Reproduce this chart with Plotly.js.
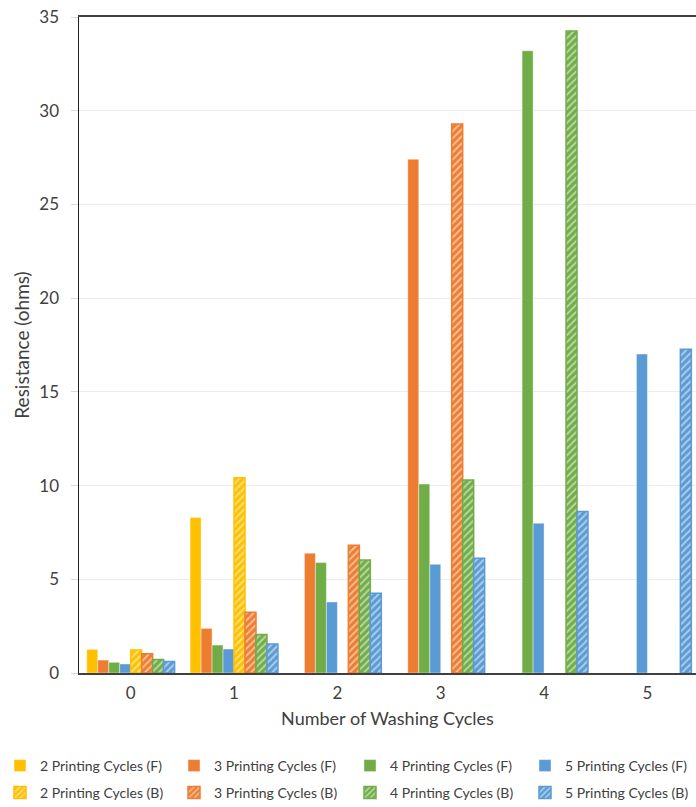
<!DOCTYPE html>
<html>
<head>
<meta charset="utf-8">
<script src="https://cdn.plot.ly/plotly-3.0.1.min.js"></script>
<style>html,body{margin:0;padding:0;background:#fff;}#chart{width:696px;height:807px;}</style>
</head>
<body>
<div id="chart"></div>
<script>
const washingCycles = ['0', '1', '2', '3', '4', '5'];

const p2F = [1.26, 8.29, null, null, null, null];
const p3F = [0.69, 2.38, 6.39, 27.41, null, null];
const p4F = [0.57, 1.49, 5.89, 10.08, 33.2, null];
const p5F = [0.48, 1.28, 3.79, 5.80, 7.99, 17.02];
const p2B = [1.23, 10.42, null, null, null, null];
const p3B = [1.03, 3.24, 6.81, 29.29, null, null];
const p4B = [0.72, 2.06, 6.03, 10.30, 34.25, null];
const p5B = [0.62, 1.55, 4.25, 6.12, 8.61, 17.27];

const seriesNames = [
  '2 Printing Cycles (F)', '3 Printing Cycles (F)', '4 Printing Cycles (F)', '5 Printing Cycles (F)',
  '2 Printing Cycles (B)', '3 Printing Cycles (B)', '4 Printing Cycles (B)', '5 Printing Cycles (B)'
];
const seriesValues = [p2F, p3F, p4F, p5F, p2B, p3B, p4B, p5B];
const colors = ['#FFC000', '#ED7D31', '#70AD47', '#5B9BD5'];

const FONT = 'Lato, "Open Sans", sans-serif';
const TEXT = '#404040';

const legendIds = ['legend', 'legend2', 'legend3', 'legend4', 'legend5', 'legend6', 'legend7', 'legend8'];

const traces = seriesValues.map((vals, i) => {
  const c = colors[i % 4];
  const hatched = i >= 4;
  const marker = hatched ? {
    color: c,
    line: {color: c, width: 1.5},
    pattern: {shape: '/', fillmode: 'overlay', fgcolor: '#ffffff', size: 5, solidity: 0.4}
  } : {
    color: c,
    line: {color: 'rgba(255,255,255,0.5)', width: 0.8}
  };
  return {
    type: 'bar',
    name: seriesNames[i],
    x: washingCycles,
    y: vals,
    marker: marker,
    legend: legendIds[i]
  };
});

const W = 696, H = 807;
const colLeftPx = [0, 174, 350, 525];
const rowCenterPx = [766, 793];

const layout = {
  width: W,
  height: H,
  margin: {l: 79, r: 0, t: 17, b: 134},
  paper_bgcolor: '#ffffff',
  plot_bgcolor: '#ffffff',
  barmode: 'group',
  bargap: 0.15,
  bargroupgap: 0,
  showlegend: true,
  xaxis: {
    type: 'category',
    range: [-0.5, 5.47],
    showline: true,
    mirror: true,
    linecolor: '#404040',
    linewidth: 2,
    ticks: '',
    showgrid: false,
    tickfont: {family: FONT, size: 17, color: TEXT},
    ticklabelstandoff: 4,
    title: {text: 'Number of Washing Cycles', font: {family: FONT, size: 18, color: TEXT}, standoff: 10}
  },
  yaxis: {
    range: [0, 35],
    dtick: 5,
    showline: true,
    linecolor: '#202020',
    linewidth: 1.5,
    ticks: 'outside',
    ticklen: 7,
    tickcolor: '#d9d9d9',
    gridcolor: '#ececec',
    gridwidth: 1,
    zeroline: false,
    tickfont: {family: FONT, size: 17, color: TEXT},
    ticklabelstandoff: 8,
    title: {text: 'Resistance (ohms)', font: {family: FONT, size: 19, color: TEXT}, standoff: 4}
  }
};

legendIds.forEach((id, i) => {
  const col = i % 4;
  const row = i < 4 ? 0 : 1;
  layout[id] = {
    orientation: 'h',
    xref: 'container',
    yref: 'container',
    xanchor: 'left',
    yanchor: 'middle',
    x: colLeftPx[col] / W,
    y: (H - rowCenterPx[row]) / H,
    itemwidth: 30,
    font: {family: FONT, size: 14, color: TEXT},
    bgcolor: 'rgba(0,0,0,0)',
    borderwidth: 0
  };
});

Plotly.newPlot('chart', traces, layout, {displayModeBar: false, staticPlot: true});
</script>
</body>
</html>
